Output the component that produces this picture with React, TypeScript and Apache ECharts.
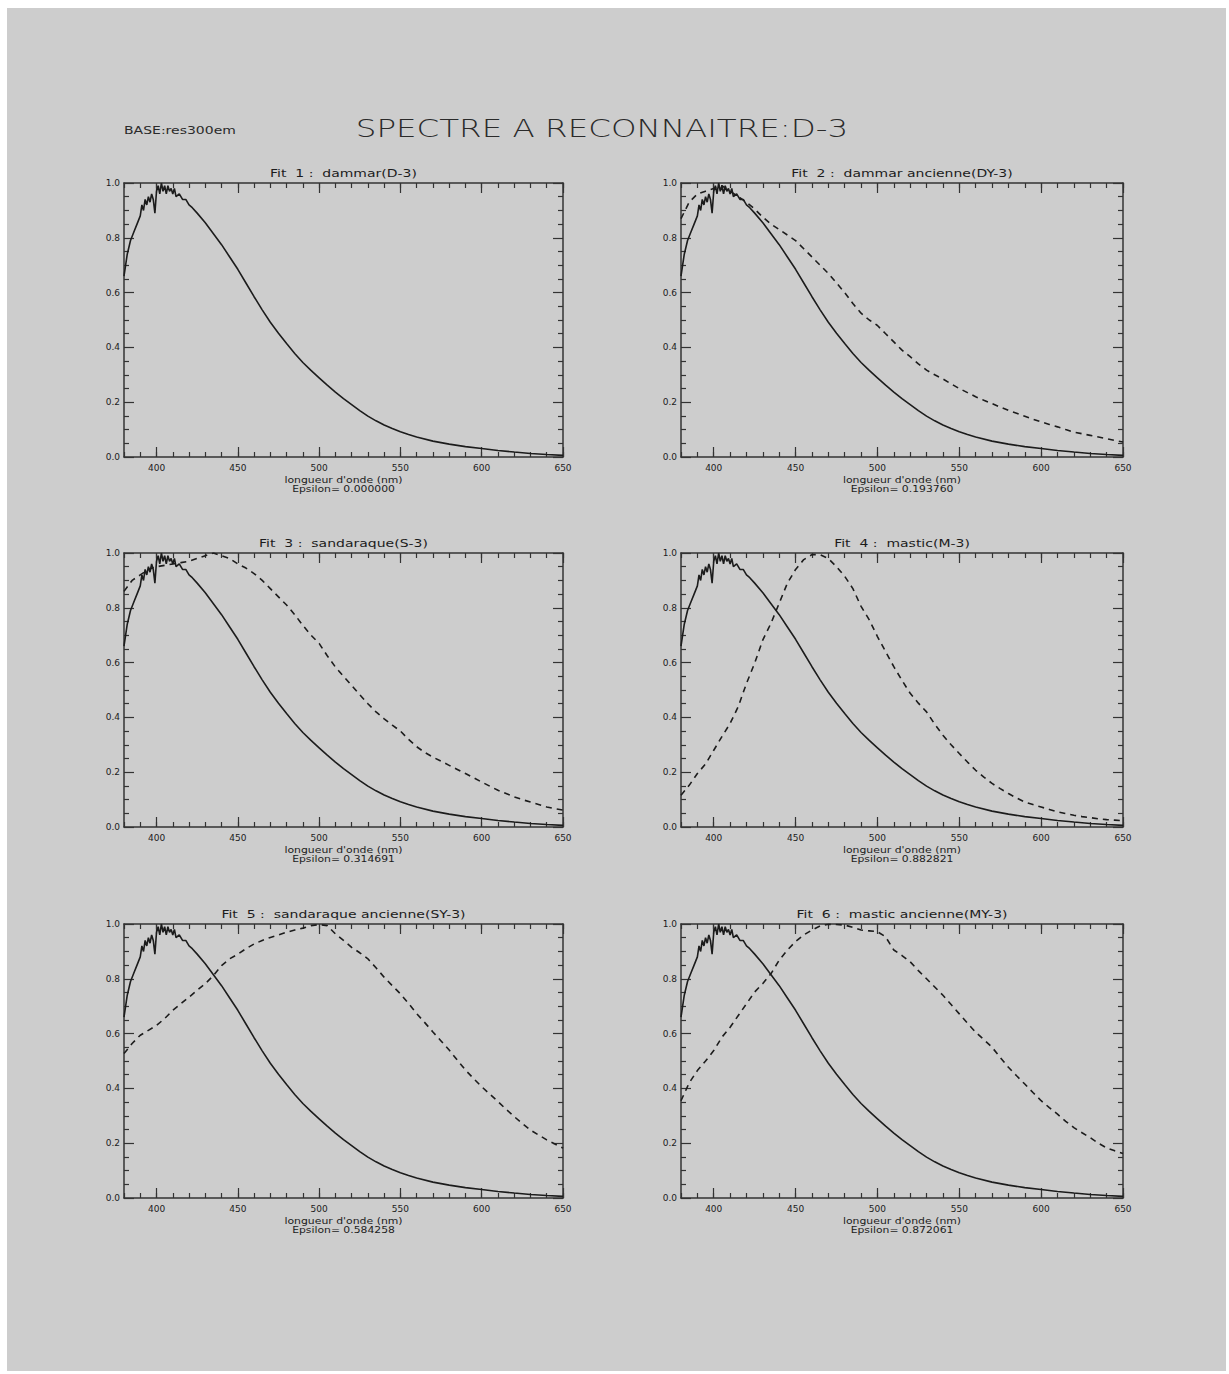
import React, { useEffect, useRef } from "react";
import * as echarts from "echarts";

// ---------- data ----------
const mainTitle = "SPECTRE A RECONNAITRE:D-3";
const baseLabel = "BASE:res300em";
const axisName = "longueur d'onde (nm)";
const panelTitles = [
  "Fit  1 :  dammar(D-3)",
  "Fit  2 :  dammar ancienne(DY-3)",
  "Fit  3 :  sandaraque(S-3)",
  "Fit  4 :  mastic(M-3)",
  "Fit  5 :  sandaraque ancienne(SY-3)",
  "Fit  6 :  mastic ancienne(MY-3)",
];
const epsilons = ["0.000000", "0.193760", "0.314691", "0.882821", "0.584258", "0.872061"];

const xTickValues = [400, 450, 500, 550, 600, 650];

// reference spectrum D-3 (solid line)
const refWavelengths = [
  380, 381, 382, 384, 386, 388, 390, 391, 392, 393, 394, 395, 396, 397, 398, 399,
  400, 401, 402, 403, 404, 405, 406, 407, 408, 409, 410, 411, 412, 414, 416, 418,
  420, 422, 425, 430, 435, 440, 445, 450, 455, 460, 465, 470, 475, 480, 485, 490,
  495, 500, 505, 510, 515, 520, 525, 530, 535, 540, 545, 550, 555, 560, 570, 580,
  590, 600, 610, 620, 630, 640, 650,
];
const refD3 = [
  0.66, 0.7, 0.74, 0.79, 0.82, 0.85, 0.88, 0.92, 0.9, 0.94, 0.92, 0.95, 0.93, 0.96, 0.94, 0.89,
  0.97, 0.99, 0.96, 1.0, 0.97, 0.99, 0.96, 0.99, 0.97, 0.98, 0.96, 0.98, 0.95, 0.96, 0.94, 0.94,
  0.92, 0.91, 0.89, 0.855, 0.815, 0.775, 0.73, 0.685, 0.635, 0.585, 0.537, 0.492, 0.452, 0.414, 0.378, 0.345,
  0.316, 0.289, 0.262, 0.237, 0.213, 0.191, 0.169, 0.149, 0.132, 0.117, 0.104, 0.092, 0.082, 0.073, 0.058, 0.047,
  0.038, 0.031, 0.024, 0.018, 0.013, 0.009, 0.006,
];

// candidate spectra (dashed), sampled every 5 nm from 380 to 650
const candWavelengths = [
  380, 385, 390, 395, 400, 405, 410, 415, 420, 425, 430, 435, 440, 445, 450, 455, 460, 465, 470,
  475, 480, 485, 490, 495, 500, 505, 510, 515, 520, 525, 530, 535, 540, 545, 550, 555, 560, 565,
  570, 575, 580, 585, 590, 595, 600, 605, 610, 615, 620, 625, 630, 635, 640, 645, 650,
];
const candDY3 = [
  0.87, 0.93, 0.96, 0.97, 0.98, 0.99, 0.97, 0.95, 0.93, 0.905, 0.875, 0.85, 0.83, 0.81, 0.79, 0.76, 0.73, 0.7, 0.67,
  0.635, 0.6, 0.56, 0.525, 0.5, 0.48, 0.45, 0.42, 0.39, 0.366, 0.34, 0.317, 0.3, 0.285, 0.267, 0.25, 0.235, 0.22, 0.207,
  0.195, 0.182, 0.17, 0.16, 0.149, 0.138, 0.128, 0.119, 0.11, 0.1, 0.091, 0.085, 0.079, 0.073, 0.067, 0.06, 0.055,
];
const candS3 = [
  0.86, 0.9, 0.92, 0.94, 0.95, 0.955, 0.96, 0.965, 0.97, 0.98, 0.99, 1.0, 0.99, 0.98, 0.96, 0.945, 0.925, 0.9, 0.87,
  0.84, 0.81, 0.775, 0.736, 0.7, 0.67, 0.625, 0.584, 0.55, 0.517, 0.483, 0.45, 0.42, 0.395, 0.372, 0.35, 0.32, 0.293, 0.272,
  0.255, 0.24, 0.225, 0.21, 0.195, 0.18, 0.164, 0.149, 0.134, 0.122, 0.11, 0.1, 0.091, 0.082, 0.073, 0.067, 0.062,
];
const candM3 = [
  0.116, 0.152, 0.195, 0.23, 0.28, 0.33, 0.378, 0.44, 0.524, 0.598, 0.683, 0.744, 0.817, 0.89, 0.94, 0.976, 0.994, 0.994, 0.98,
  0.95, 0.915, 0.87, 0.805, 0.756, 0.695, 0.64, 0.585, 0.535, 0.488, 0.452, 0.42, 0.375, 0.335, 0.3, 0.268, 0.237, 0.207, 0.182,
  0.159, 0.14, 0.122, 0.106, 0.091, 0.082, 0.073, 0.064, 0.055, 0.049, 0.043, 0.038, 0.034, 0.03, 0.027, 0.025, 0.023,
];
const candSY3 = [
  0.527, 0.564, 0.594, 0.612, 0.63, 0.655, 0.685, 0.709, 0.733, 0.758, 0.782, 0.812, 0.848, 0.873, 0.89, 0.91, 0.927, 0.94, 0.951,
  0.96, 0.97, 0.978, 0.985, 0.994, 0.998, 0.994, 0.964, 0.94, 0.915, 0.895, 0.873, 0.84, 0.806, 0.775, 0.745, 0.71, 0.673, 0.64,
  0.606, 0.573, 0.54, 0.503, 0.467, 0.436, 0.406, 0.379, 0.352, 0.324, 0.297, 0.272, 0.248, 0.23, 0.212, 0.197, 0.182,
];
const candMY3 = [
  0.355, 0.42, 0.465, 0.5, 0.538, 0.587, 0.623, 0.666, 0.709, 0.752, 0.783, 0.819, 0.868, 0.905, 0.936, 0.96, 0.978, 0.993, 0.999,
  0.998, 0.996, 0.988, 0.978, 0.975, 0.972, 0.953, 0.905, 0.885, 0.862, 0.83, 0.8, 0.77, 0.74, 0.706, 0.672, 0.638, 0.605, 0.578,
  0.55, 0.513, 0.477, 0.446, 0.416, 0.385, 0.355, 0.33, 0.306, 0.28, 0.257, 0.238, 0.22, 0.2, 0.183, 0.172, 0.162,
];
const candidates: (number[] | null)[] = [null, candDY3, candS3, candM3, candSY3, candMY3];

// ---------- layout ----------
const W = 1229;
const H = 1374;
const colLeft = [124, 681];
const colWidth = [439, 442];
const rowTop = [183, 553, 924];
const plotH = 274;
const INK = "#1c1c1c";
const FONT = "DejaVu Sans";

function pairs(xs: number[], ys: number[]) {
  return xs.map((x, i) => [x, ys[i]]);
}

export default function App() {
  const ref = useRef<HTMLDivElement>(null);

  useEffect(() => {
    if (!ref.current) return;
    const chart = echarts.init(ref.current, undefined, { renderer: "svg" });

    const grids: any[] = [];
    const xAxes: any[] = [];
    const yAxes: any[] = [];
    const series: any[] = [];
    const graphics: any[] = [
      { type: "rect", shape: { x: 7, y: 8, width: 1219, height: 1363 }, style: { fill: "#cdcdcd" }, z: -10 },
      {
        type: "text", x: 602, y: 128, scaleX: 1.3,
        style: { text: mainTitle, font: `300 25px "${FONT}"`, fill: "#2a2a2a", textAlign: "center", textVerticalAlign: "middle" },
      },
      {
        type: "text", x: 124, y: 131, scaleX: 1.4,
        style: { text: baseLabel, font: `10px "${FONT}"`, fill: "#2a2a2a", textAlign: "left", textVerticalAlign: "middle" },
      },
    ];

    const lineAx = { show: true, lineStyle: { color: "#333", width: 1.5 } };

    for (let p = 0; p < 6; p++) {
      const col = p % 2;
      const row = Math.floor(p / 2);
      const left = colLeft[col];
      const width = colWidth[col];
      const top = rowTop[row];
      grids.push({ left, top, width, height: plotH, containLabel: false });
      const gi = p;
      const base = { type: "value", gridIndex: gi, min: 380, max: 650, interval: 10, splitLine: { show: false } };
      // bottom major
      xAxes.push({
        ...base, position: "bottom", axisLine: lineAx,
        axisTick: { show: true, inside: true, length: 10, customValues: xTickValues, lineStyle: { color: "#333", width: 1.2 } },
        axisLabel: { show: true, customValues: xTickValues, color: INK, fontSize: 9, fontFamily: FONT, margin: 6 },
      });
      // bottom minor
      xAxes.push({
        ...base, position: "bottom", axisLine: { show: false },
        axisTick: { show: true, inside: true, length: 5, lineStyle: { color: "#333", width: 1.2 } },
        axisLabel: { show: false },
      });
      // top major
      xAxes.push({
        ...base, position: "top", axisLine: lineAx,
        axisTick: { show: true, inside: true, length: 10, customValues: xTickValues, lineStyle: { color: "#333", width: 1.2 } },
        axisLabel: { show: false },
      });
      // top minor
      xAxes.push({
        ...base, position: "top", axisLine: { show: false },
        axisTick: { show: true, inside: true, length: 5, lineStyle: { color: "#333", width: 1.2 } },
        axisLabel: { show: false },
      });
      const yBase = {
        type: "value", gridIndex: gi, min: 0, max: 1, interval: 0.2, splitLine: { show: false },
        axisLine: lineAx,
        axisTick: { show: true, inside: true, length: 10, lineStyle: { color: "#333", width: 1.2 } },
        minorTick: { show: true, splitNumber: 4, length: 5, lineStyle: { color: "#333", width: 1.2 } },
      };
      yAxes.push({
        ...yBase, position: "left",
        axisLabel: { show: true, color: INK, fontSize: 9, fontFamily: FONT, margin: 4, formatter: (v: number) => v.toFixed(1) },
      });
      yAxes.push({ ...yBase, position: "right", axisLabel: { show: false } });

      series.push({
        type: "line", xAxisIndex: p * 4, yAxisIndex: p * 2,
        data: pairs(refWavelengths, refD3), showSymbol: false, symbol: "none",
        lineStyle: { color: INK, width: 1.6 }, z: 3,
      });
      const cand = candidates[p];
      if (cand) {
        series.push({
          type: "line", xAxisIndex: p * 4, yAxisIndex: p * 2,
          data: pairs(candWavelengths, cand), showSymbol: false, symbol: "none",
          lineStyle: { color: INK, width: 1.6, type: [6, 5] }, z: 3,
        });
      }

      const cx = left + width / 2;
      graphics.push({
        type: "text", x: cx, y: top - 9, scaleX: 1.4,
        style: { text: panelTitles[p], font: `10px "${FONT}"`, fill: INK, textAlign: "center", textVerticalAlign: "middle" },
      });
      graphics.push({
        type: "text", x: cx, y: top + plotH + 23, scaleX: 1.36,
        style: { text: axisName, font: `8px "${FONT}"`, fill: INK, textAlign: "center", textVerticalAlign: "middle" },
      });
      graphics.push({
        type: "text", x: cx, y: top + plotH + 32, scaleX: 1.2,
        style: { text: `Epsilon= ${epsilons[p]}`, font: `9px "${FONT}"`, fill: INK, textAlign: "center", textVerticalAlign: "middle" },
      });
    }

    chart.setOption({
      animation: false,
      backgroundColor: "#ffffff",
      grid: grids,
      xAxis: xAxes,
      yAxis: yAxes,
      series,
      graphic: graphics,
    });
    return () => chart.dispose();
  }, []);

  return (
    <div
      ref={ref}
      style={{ position: "absolute", left: 0, top: 0, width: W, height: H }}
    />
  );
}
